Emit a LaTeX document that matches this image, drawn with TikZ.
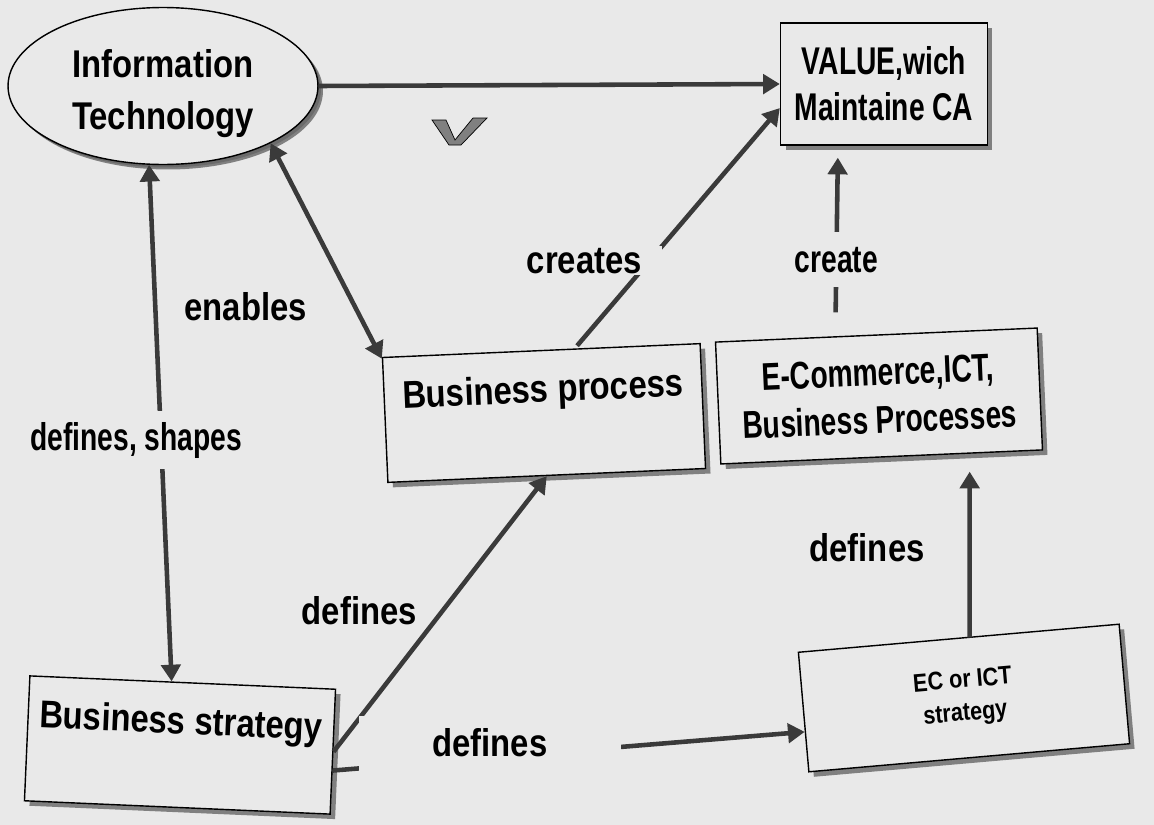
\documentclass[tikz,border=0pt]{standalone}
\usepackage{fontspec}
\setmainfont{Liberation Sans Bold}[FakeStretch=0.85]
\newfontfamily\narrowfont{Liberation Sans Bold}[FakeStretch=0.73]
\usepackage{tikz}
\usetikzlibrary{arrows.meta, shapes.geometric, shadows}
\definecolor{paper}{RGB}{233,233,233}
\definecolor{ink}{RGB}{58,58,58}

\begin{document}
\begin{tikzpicture}[x=0.02cm, y=-0.02cm]

	\tikzstyle{arrow} = [line width=2.6pt, draw=ink, -{Triangle[length=9.5pt,width=11pt]}]
	\tikzstyle{biarrow} = [arrow, {Triangle[length=9.5pt,width=11pt]}-{Triangle[length=9.5pt,width=11pt]}]
	\tikzstyle{box} = [draw, thick, fill=paper, align=center, font=\fontsize{22}{26}\selectfont,
	drop shadow={shadow xshift=0.1cm, shadow yshift=-0.1cm, fill=black!60, opacity=0.8}]
	\tikzstyle{lbl} = [fill=paper, font=\fontsize{22}{26}\selectfont]
	\tikzstyle{txt} = [font=\fontsize{22}{26}\selectfont]

	\fill[paper] (0,0) rectangle (1154,825);
	\useasboundingbox (0,0) rectangle (1154,825);

	\node[box, ellipse, inner sep=0pt, minimum width=6.2cm, minimum height=3.14cm, font=\fontsize{22}{30}\selectfont, text height=1.92cm,
	drop shadow={shadow xshift=0.06cm, shadow yshift=-0.06cm, fill=black!60, opacity=0.8}]  (it)  at (163,86)  {Information\\Technology};
	\node[box, minimum width=4.14cm, minimum height=2.44cm, font=\narrowfont\fontsize{22}{26}\selectfont]  (value)  at (884,84)  {VALUE,wich\\Maintaine CA};
	\node[box, minimum width=6.36cm, minimum height=2.5cm, rotate=2.5, text depth=1cm]  (bp)  at (544,413)  {Business process};
	\node[box, minimum width=6.44cm, minimum height=2.44cm, rotate=2.5, font=\narrowfont\fontsize{22}{27}\selectfont]  (ec)  at (879,396)  {E-Commerce,ICT,\\Business Processes};
	\node[box, minimum width=6.12cm, minimum height=2.5cm, rotate=-2.5, text depth=1cm]  (bs)  at (180,745)  {Business strategy};
	\node[box, minimum width=6.44cm, minimum height=2.4cm, rotate=5, font=\fontsize{14.5}{18.7}\selectfont]  (ecs)  at (964,698)  {EC or ICT\\strategy};

	% the grey V mark
	\filldraw[fill=black!50, draw=black, thin] (432,120) -- (446,120) -- (455,140) -- (473,118)
	-- (487,118) -- (461,145) -- (449,145) -- cycle;

	\draw[arrow] (it.east) -- (value.west);
	\draw[biarrow] (it.-28) -- node[txt, pos=0.76, left=0.8cm] {enables} (bp.159);
	\draw[biarrow] (it.-100) -- node[lbl, pos=0.533, xshift=-0.5cm, minimum height=1.16cm, font=\narrowfont\fontsize{22}{26}\selectfont] {defines, shapes} (bs.100);
	\draw[arrow, shorten <=2pt] (bp.62) -- node[lbl, pos=0.364, xshift=-1.3cm, inner xsep=0.4cm, inner ysep=1pt] {creates} (value.193);
	\draw[arrow, shorten <=0.44cm, shorten >=0.24cm] ([xshift=-0.82cm]ec.north) -- node[lbl, pos=0.395, minimum height=1.1cm, font=\narrowfont\fontsize{22}{26}\selectfont] {create} ([xshift=-0.92cm]value.south);
	\draw[arrow, shorten >=0.28cm] ([xshift=0.22cm]ecs.north) -- node[txt, pos=0.5, left=0.74cm] {defines} ([xshift=1.76cm]ec.south);
	\draw[arrow] (bs.east) -- node[txt, pos=0.513, left=0.36cm] {defines} (bp.south);
	\draw[arrow] (bs.-7) -- node[lbl, pos=0.333, yshift=0.29cm, minimum width=5.24cm, minimum height=1.1cm] {defines} (ecs.187);

\end{tikzpicture}
\end{document}
